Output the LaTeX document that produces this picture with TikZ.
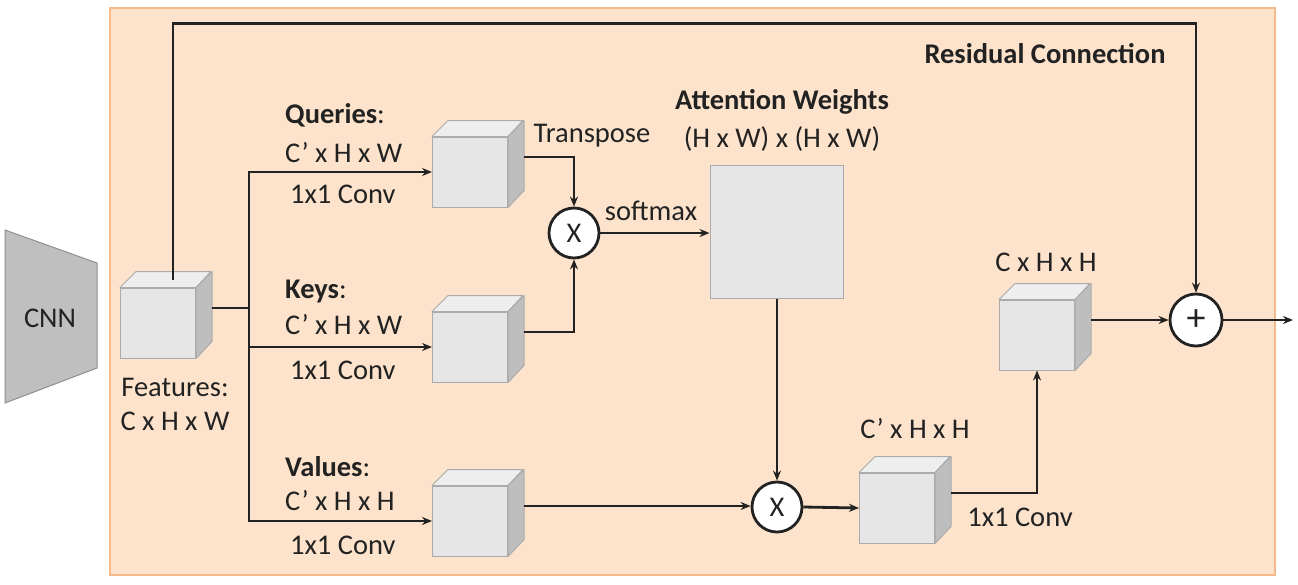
\documentclass[tikz,border=0pt]{standalone}
\usepackage{fontspec}
\setmainfont{Carlito}
\usetikzlibrary{arrows.meta,calc}
\definecolor{peach}{HTML}{FDE3CB}
\definecolor{peachedge}{HTML}{F5B98A}
\definecolor{cubefront}{HTML}{E6E6E6}
\definecolor{cubetop}{HTML}{EEEEEE}
\definecolor{cubeside}{HTML}{BEBEBE}
\definecolor{cubeedge}{HTML}{ABABAB}
\definecolor{cnnfill}{HTML}{BFBFBF}
\definecolor{cnnedge}{HTML}{8F8F8F}
\definecolor{ink}{HTML}{222222}
\newcommand\mycube[2]{%
  \node[cubebox] (#1) at (#2) {};
  \draw[cubeline, fill=cubetop] (#1.north west) -- ++(16,-16) -- ++(75,0) -- (#1.north east) -- cycle;
  \draw[cubeline, fill=cubeside] (#1.north east) -- ++(16,-16) -- ++(0,70) -- (#1.south east) -- cycle;
  \coordinate (#1x) at ($(#1.east)+(16,-15)$);
}
\begin{document}
\begin{tikzpicture}[x=1pt,y=-1pt,
  every node/.style={font=\fontsize{28.5}{31}\selectfont, text=ink},
  cubebox/.style={rectangle, draw=cubeedge, fill=cubefront, line width=1pt, minimum width=75pt, minimum height=70pt, inner sep=0pt},
  cubeline/.style={draw=cubeedge, line width=1pt, line join=round},
  conn/.style={draw=ink, line width=2.8pt},
  arr/.style={conn, -{Stealth[length=10pt,width=8pt]}},
  op/.style={circle, draw=ink, fill=white, line width=2.8pt, minimum size=50pt, inner sep=0pt},
  lbl/.style={anchor=west, inner sep=0pt},
  bold/.style={font=\fontsize{28.5}{31}\selectfont\bfseries}]
\useasboundingbox (0,0) rectangle (1298,584);
\fill[white] (0,0) rectangle (1298,584);
\draw[peachedge, fill=peach, line width=1.5pt] (110,8) rectangle (1275,575);
% CNN
\draw[cnnedge, fill=cnnfill, line width=1pt] (5,230) -- (97,263) -- (97,368) -- (5,403) -- cycle;
\node (cnn) at (50,318) {CNN};
% cubes
\mycube{F}{158,323}
\mycube{Q}{470,172}
\mycube{K}{470,347}
\mycube{V}{470,521}
\mycube{P}{897,508}
\mycube{O}{1037,335}
\node[draw=cubeedge, fill=cubefront, line width=1pt, minimum width=133pt, minimum height=133pt, inner sep=0pt] (A) at (776.5,231.5) {};
% operators
\node[op] (M1) at (574,233) {X};
\node[op] (M2) at (777,507) {X};
\node[op, minimum size=52pt, font=\fontsize{38}{38}\selectfont] (S) at (1196,320) {+};
\coordinate (out) at (1293,320);
\coordinate (Ftop) at ($(F.north)+(15,-8)$);
\path (S.north) ++(0,-269) coordinate (rc);
\coordinate (br) at ($(Fx)+(37,0)$);
% connectors
\draw[arr] (Ftop) |- (rc) -- (S.north);
\draw[conn] (Fx) -- (br);
\draw[arr] (br) |- (Q.west);
\draw[arr] (br) |- (K.west);
\draw[arr] (br) |- (V.west);
\draw[arr] (Qx) -| (M1.north);
\draw[arr] (Kx) -| (M1.south);
\draw[arr] (M1.east) -- (M1.east -| A.west);
\draw[arr] (A.south -| M2.north) -- (M2.north);
\draw[arr] (Vx) -- (Vx -| M2.west);
\draw[arr] (M2.east) -- (P.west);
\draw[arr] (Px) -| (O.south);
\draw[arr] (Ox) -- (S.west);
\draw[arr] (S.east) -- (out);
% labels
\node[lbl] (lq1) at (285,115) {\textbf{Queries}:};
\node[lbl] (lq2) at (285,153) {C’ x H x W};
\node[lbl] (lq3) at (290,194) {1x1 Conv};
\node[lbl] (lk1) at (285,291) {\textbf{Keys}:};
\node[lbl] (lk2) at (285,325) {C’ x H x W};
\node[lbl] (lk3) at (290,370) {1x1 Conv};
\node[lbl] (lv1) at (285,467) {\textbf{Values}:};
\node[lbl] (lv2) at (285,501) {C’ x H x H};
\node[lbl] (lv3) at (290,545) {1x1 Conv};
\node (tr) at (592,136) {Transpose};
\node (sm) at (651,211) {softmax};
\node[bold] (aw1) at (782,102) {Attention Weights};
\node (aw2) at (782,139) {(H x W) x (H x W)};
\node[bold] (res) at (1045,54) {Residual Connection};
\node (feat1) at (175,387) {Features:};
\node (feat2) at (175,421) {C x H x W};
\node (pl) at (915,429) {C’ x H x H};
\node (ol) at (1046,262) {C x H x H};
\node (cl) at (1020,517) {1x1 Conv};
\end{tikzpicture}
\end{document}
